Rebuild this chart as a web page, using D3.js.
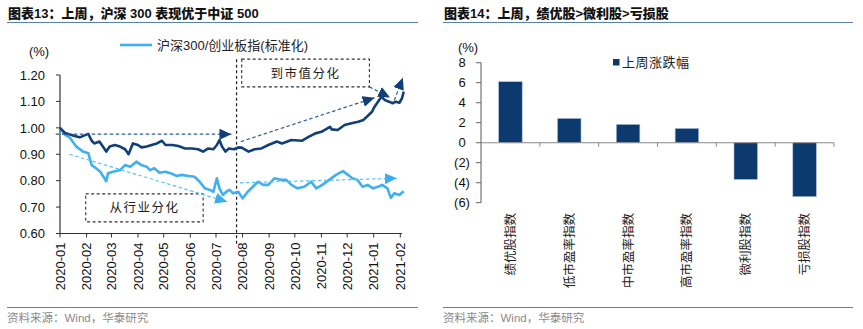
<!DOCTYPE html>
<html><head><meta charset="utf-8">
<script src="https://cdn.jsdelivr.net/npm/d3@7"></script>
<style>
body{margin:0;background:#fff;}
text{font-family:Arial,"Liberation Sans","Noto Sans CJK SC",sans-serif;}
</style>
</head><body>
<svg id="c" width="863" height="329"></svg>
<script>
// ---------- DATA ----------
const monthTicks = ["2020-01","2020-02","2020-03","2020-04","2020-05","2020-06","2020-07","2020-08","2020-09","2020-10","2020-11","2020-12","2021-01","2021-02"];
const leftYTicks = [0.6,0.7,0.8,0.9,1.0,1.1,1.2];

// 沪深300/中证500 (标准化) - dark
const navyDates = ["2020-01-01","2020-01-07","2020-01-18","2020-01-24","2020-02-03","2020-02-07","2020-02-10","2020-02-16","2020-02-24","2020-02-28","2020-03-05","2020-03-11","2020-03-17","2020-03-21","2020-03-26","2020-04-01","2020-04-05","2020-04-11","2020-04-17","2020-04-23","2020-04-29","2020-05-03","2020-05-11","2020-05-18","2020-05-26","2020-06-03","2020-06-10","2020-06-16","2020-06-22","2020-06-28","2020-07-02","2020-07-05","2020-07-08","2020-07-12","2020-07-16","2020-07-22","2020-07-27","2020-07-31","2020-08-08","2020-08-15","2020-08-23","2020-08-31","2020-09-10","2020-09-16","2020-09-27","2020-10-09","2020-10-17","2020-10-25","2020-11-01","2020-11-11","2020-11-13","2020-11-20","2020-11-28","2020-12-06","2020-12-14","2020-12-20","2020-12-24","2020-12-30","2021-01-02","2021-01-06","2021-01-10","2021-01-14","2021-01-19","2021-01-23","2021-01-27","2021-01-31","2021-02-03","2021-02-05"];
const navyVals = [1.000,0.980,0.969,0.964,0.977,0.951,0.941,0.948,0.910,0.929,0.935,0.929,0.919,0.900,0.941,0.935,0.926,0.929,0.935,0.941,0.951,0.935,0.935,0.931,0.922,0.922,0.919,0.910,0.922,0.919,0.935,0.954,0.929,0.910,0.922,0.919,0.926,0.925,0.910,0.919,0.922,0.935,0.948,0.941,0.954,0.951,0.966,0.979,0.985,1.004,0.994,0.992,1.011,1.017,1.023,1.030,1.042,1.061,1.080,1.099,1.118,1.105,1.099,1.093,1.099,1.095,1.112,1.137];

// 沪深300/创业板指 (标准化) - light
const lightDates = ["2020-01-01","2020-01-07","2020-01-12","2020-01-20","2020-01-28","2020-02-03","2020-02-07","2020-02-12","2020-02-17","2020-02-24","2020-02-26","2020-03-03","2020-03-11","2020-03-17","2020-03-23","2020-03-30","2020-04-05","2020-04-11","2020-04-15","2020-04-20","2020-04-26","2020-05-03","2020-05-09","2020-05-16","2020-05-22","2020-05-30","2020-06-06","2020-06-12","2020-06-18","2020-06-24","2020-06-28","2020-06-30","2020-07-02","2020-07-05","2020-07-09","2020-07-13","2020-07-17","2020-07-21","2020-07-27","2020-08-01","2020-08-07","2020-08-13","2020-08-19","2020-08-25","2020-08-31","2020-09-07","2020-09-15","2020-09-21","2020-09-27","2020-10-04","2020-10-12","2020-10-20","2020-10-26","2020-11-02","2020-11-10","2020-11-18","2020-11-26","2020-12-02","2020-12-07","2020-12-13","2020-12-19","2020-12-25","2020-12-31","2021-01-06","2021-01-11","2021-01-17","2021-01-21","2021-01-25","2021-01-31","2021-02-05"];
const lightVals = [1.000,0.973,0.964,0.929,0.910,0.904,0.859,0.847,0.834,0.798,0.828,0.834,0.840,0.859,0.853,0.872,0.859,0.853,0.840,0.847,0.830,0.834,0.828,0.818,0.822,0.818,0.815,0.796,0.771,0.765,0.758,0.784,0.809,0.771,0.746,0.758,0.765,0.752,0.758,0.733,0.758,0.777,0.796,0.784,0.784,0.809,0.803,0.803,0.784,0.771,0.777,0.796,0.771,0.784,0.803,0.822,0.836,0.822,0.809,0.803,0.777,0.784,0.771,0.777,0.784,0.771,0.735,0.752,0.746,0.760];

// Right chart
const barCats = ["绩优股指数","低市盈率指数","中市盈率指数","高市盈率指数","微利股指数","亏损股指数"];
const barVals = [6.1,2.43,1.83,1.43,-3.67,-5.4];
const rightYTicks = [-6,-4,-2,0,2,4,6,8];

// ---------- DRAW ----------
const svg = d3.select("#c");
const parse = d3.timeParse("%Y-%m-%d");
const parseM = d3.timeParse("%Y-%m");

// Titles and rules
function header(x0, x1, title){
  svg.append("text").attr("x",x0+1).attr("y",18).attr("font-size",13).attr("font-weight",900)
    .attr("fill","#111").attr("font-family","'Noto Sans CJK SC',sans-serif").text(title);
  svg.append("line").attr("x1",x0).attr("x2",x1).attr("y1",22.5).attr("y2",22.5).attr("stroke","#5b7fae").attr("stroke-width",1.2);
  svg.append("line").attr("x1",x0).attr("x2",x1).attr("y1",307.5).attr("y2",307.5).attr("stroke","#5b7fae").attr("stroke-width",1.2);
  svg.append("text").attr("x",x0).attr("y",322).attr("font-size",11.5).attr("fill","#8a8a8a").text("资料来源：Wind，华泰研究");
}
header(7, 418, "图表13：上周，沪深 300 表现优于中证 500");
header(443, 853, "图表14：上周，绩优股>微利股>亏损股");

// ---- Left chart ----
const x = d3.scaleTime().domain([parse("2020-01-01"), parse("2021-02-03")]).range([60, 402]);
const y = d3.scaleLinear().domain([0.6, 1.2]).range([233.5, 75]);
const L = svg.append("g");

// y axis
L.append("line").attr("x1",60).attr("x2",60).attr("y1",y(1.2)).attr("y2",y(0.6)).attr("stroke","#333").attr("stroke-width",1.2);
leftYTicks.forEach(v=>{
  L.append("line").attr("x1",56).attr("x2",60).attr("y1",y(v)).attr("y2",y(v)).attr("stroke","#333");
  L.append("text").attr("x",45).attr("y",y(v)).attr("dy","0.36em").attr("text-anchor","end")
    .attr("font-size",13).attr("fill","#111").text(d3.format(".2f")(v));
});
L.append("text").attr("x",39).attr("y",56).attr("text-anchor","middle").attr("font-size",13).attr("fill","#111").text("(%)");

// x axis
L.append("line").attr("x1",60).attr("x2",402).attr("y1",y(0.6)).attr("y2",y(0.6)).attr("stroke","#333").attr("stroke-width",1.2);
monthTicks.forEach(m=>{
  const xv = x(parseM(m));
  L.append("line").attr("x1",xv).attr("x2",xv).attr("y1",y(0.6)).attr("y2",y(0.6)+4).attr("stroke","#333");
  L.append("text").attr("transform",`translate(${xv},${y(0.6)+9}) rotate(-90)`).attr("text-anchor","end")
    .attr("dy","0.36em").attr("font-size",13).attr("fill","#111").text(m);
});

// markers
const defs = svg.append("defs");
function marker(id, color){
  defs.append("marker").attr("id",id).attr("markerUnits","userSpaceOnUse").attr("markerWidth",13).attr("markerHeight",11)
    .attr("refX",12).attr("refY",5.5).attr("orient","auto")
    .append("path").attr("d","M0,0 L12,5.5 L0,11 Z").attr("fill",color);
}
marker("mDark","#123f76");
marker("mLight","#3aaee8");

// vertical divider
const divX = x(parse("2020-07-25"));
L.append("line").attr("x1",divX).attr("x2",divX).attr("y1",y(1.26)).attr("y2",245)
  .attr("stroke","#222").attr("stroke-width",1.2).attr("stroke-dasharray","3,2.5");

// annotation boxes
function box(d0,d1,v0,v1,label){
  const bx0=x(parse(d0)), bx1=x(parse(d1)), by0=y(v0), by1=y(v1);
  L.append("rect").attr("x",bx0).attr("y",by0).attr("width",bx1-bx0).attr("height",by1-by0)
    .attr("fill","none").attr("stroke","#333").attr("stroke-width",1.1).attr("stroke-dasharray","3,2.5");
  L.append("text").attr("x",(bx0+bx1)/2).attr("y",(by0+by1)/2).attr("dy","0.36em").attr("text-anchor","middle")
    .attr("font-size",12.5).attr("letter-spacing","1.5px").attr("fill","#222").text(label);
}
box("2020-07-31","2020-12-27",1.26,1.155,"到市值分化");
box("2020-01-31","2020-06-16",0.75,0.644,"从行业分化");

// lines
const lineGen = d3.line().x(d=>x(d[0])).y(d=>y(d[1])).curve(d3.curveLinear);
const navyData = navyDates.map((d,i)=>[parse(d),navyVals[i]]);
const lightData = lightDates.map((d,i)=>[parse(d),lightVals[i]]);
L.append("path").attr("d",lineGen(lightData)).attr("fill","none").attr("stroke","#41b0ec").attr("stroke-width",2.6).attr("stroke-linejoin","round");
L.append("path").attr("d",lineGen(navyData)).attr("fill","none").attr("stroke","#123f76").attr("stroke-width",2.6).attr("stroke-linejoin","round");

// dashed arrows
function arrow(d0,v0,d1,v1,dark){
  L.append("line").attr("x1",x(parse(d0))).attr("y1",y(v0)).attr("x2",x(parse(d1))).attr("y2",y(v1))
    .attr("stroke",dark?"#2b5d9a":"#5cc0f0").attr("stroke-width",1.2).attr("stroke-dasharray","3.5,2.5")
    .attr("marker-end",`url(#${dark?"mDark":"mLight"})`);
}
arrow("2019-12-27",0.976,"2020-07-19",0.976,true);
arrow("2020-01-12",0.90,"2020-07-14",0.72,false);
arrow("2020-07-30",0.948,"2021-01-02",1.114,true);
arrow("2020-12-27",1.155,"2021-01-20",1.115,true);
arrow("2021-01-25",1.104,"2021-02-04",1.19,true);
arrow("2020-07-29",0.792,"2021-01-28",0.809,false);

// legend
L.append("line").attr("x1",120).attr("x2",152).attr("y1",45).attr("y2",45).attr("stroke","#41b0ec").attr("stroke-width",2.6);
L.append("text").attr("x",157).attr("y",45).attr("dy","0.36em").attr("font-size",13).attr("fill","#222").text("沪深300/创业板指(标准化)");

// ---- Right chart ----
const xb = d3.scaleBand().domain(barCats).range([481, 834]).paddingInner(0.6).paddingOuter(0.3);
const yb = d3.scaleLinear().domain([-6, 8]).range([202.7, 62.7]);
const R = svg.append("g");
const fmtR = v => v < 0 ? `(${Math.abs(v)})` : `${v}`;

R.selectAll("rect.bar").data(barVals).enter().append("rect").attr("class","bar")
  .attr("x",(d,i)=>xb(barCats[i])).attr("width",xb.bandwidth())
  .attr("y",d=>yb(Math.max(0,d))).attr("height",d=>Math.abs(yb(d)-yb(0)))
  .attr("fill","#0c3a6e").attr("stroke","#a9bfd8").attr("stroke-width",0.6);

// y axis
R.append("line").attr("x1",481).attr("x2",481).attr("y1",yb(8)).attr("y2",yb(-6)).attr("stroke","#666").attr("stroke-width",1.1);
rightYTicks.forEach(v=>{
  R.append("line").attr("x1",476).attr("x2",481).attr("y1",yb(v)).attr("y2",yb(v)).attr("stroke","#666");
  R.append("text").attr("x",462).attr("y",yb(v)).attr("dy","0.36em").attr("text-anchor","middle")
    .attr("font-size",13).attr("fill","#111").text(fmtR(v));
});
R.append("text").attr("x",468).attr("y",52).attr("text-anchor","middle").attr("font-size",13).attr("fill","#111").text("(%)");

// zero line + category ticks
R.append("line").attr("x1",481).attr("x2",834).attr("y1",yb(0)).attr("y2",yb(0)).attr("stroke","#888").attr("stroke-width",1.1);
const step = xb.step();
barCats.forEach((c,i)=>{
  const bx = xb(c) + xb.bandwidth()/2 + step/2;
  R.append("line").attr("x1",bx).attr("x2",bx).attr("y1",yb(0)).attr("y2",yb(0)+4).attr("stroke","#888");
  R.append("text").attr("transform",`translate(${xb(c)+xb.bandwidth()/2},213) rotate(-90)`)
    .attr("text-anchor","end").attr("dy","0.36em").attr("font-size",12.5).attr("fill","#222")
    .attr("font-family","'Noto Sans CJK SC',sans-serif").text(c);
});

// legend
R.append("rect").attr("x",613).attr("y",59).attr("width",6.5).attr("height",6.5).attr("fill","#0c3a6e");
R.append("text").attr("x",622).attr("y",62.5).attr("dy","0.36em").attr("font-size",13).attr("letter-spacing","0.5px").attr("fill","#222").text("上周涨跌幅");
</script>
</body></html>
